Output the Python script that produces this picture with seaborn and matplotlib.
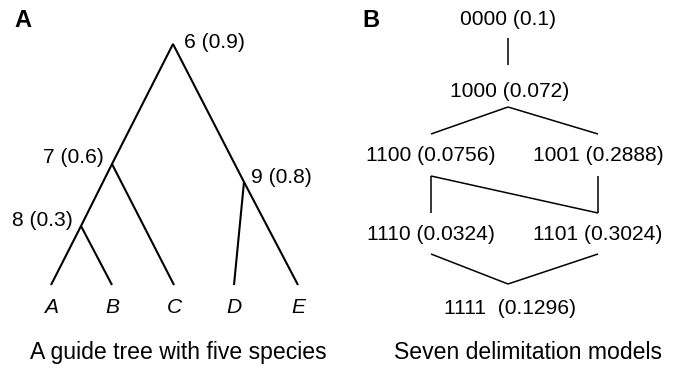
import matplotlib
matplotlib.use("Agg")
import matplotlib.pyplot as plt
import pandas as pd
import seaborn as sns

# ---- Panel A: guide tree with five species ----
leaf_names = ["A", "B", "C", "D", "E"]
internal_ids = ["6", "7", "8", "9"]
internal_probs = [0.9, 0.6, 0.3, 0.8]
# branches drawn as polylines through the tree nodes
tree_paths = [
    ["A", "8", "7", "6", "9", "E"],
    ["8", "B"],
    ["7", "C"],
    ["9", "D"],
]

# ---- Panel B: seven delimitation models ----
model_codes = ["0000", "1000", "1100", "1001", "1110", "1101", "1111"]
model_probs = [0.1, 0.072, 0.0756, 0.2888, 0.0324, 0.3024, 0.1296]
model_edges = [
    ("0000", "1000"),
    ("1000", "1100"), ("1000", "1001"),
    ("1100", "1110"), ("1100", "1101"), ("1001", "1101"),
    ("1110", "1111"), ("1101", "1111"),
]

panel_letters = ["A", "B"]
captions = ["A guide tree with five species", "Seven delimitation models"]

# ---- layout on a pixel canvas (origin top-left) ----
W, H = 678, 369
leaf_pos = {n: (x, 285) for n, x in zip(leaf_names, [51, 112, 174, 234, 298])}
node_pos = {"6": (173, 44), "7": (112, 164), "8": (81, 226), "9": (244, 182)}
tree_pos = {**leaf_pos, **node_pos}

# label placement for internal nodes: (x, baseline, alignment)
node_label_at = {"6": (184, 48, "left"), "7": (104, 163, "right"),
                 "8": (73, 226, "right"), "9": (251, 183, "left")}

# model rows: centre x, label baseline, connector top / bottom
model_x = {"0000": 508, "1000": 508, "1100": 431, "1001": 598,
           "1110": 431, "1101": 598, "1111": 508}
model_base = {"0000": 25, "1000": 97, "1100": 161, "1001": 161,
              "1110": 240, "1101": 240, "1111": 314}
conn_top = {"1000": 65, "1100": 134, "1001": 134, "1110": 213,
            "1101": 213, "1111": 284}
conn_bot = {"0000": 38, "1000": 107, "1100": 176, "1001": 176,
            "1110": 254, "1101": 254}

sns.set_theme(style="white")
plt.rcParams["font.family"] = ["Liberation Sans", "DejaVu Sans"]
plt.rcParams["text.color"] = "black"

fig = plt.figure(figsize=(W / 100, H / 100), dpi=100)
ax = fig.add_axes([0, 0, 1, 1])

# tree branches
rows = []
for i, path in enumerate(tree_paths):
    for k, n in enumerate(path):
        x, y = tree_pos[n]
        rows.append({"path": i, "step": k, "x": x, "y": y})
tree_df = pd.DataFrame(rows)
sns.lineplot(data=tree_df, x="x", y="y", units="path", estimator=None,
             sort=False, color="black", linewidth=1.5, legend=False, ax=ax,
             solid_joinstyle="miter", solid_capstyle="butt")

# model connectors
rows = []
for i, (a, b) in enumerate(model_edges):
    rows.append({"edge": i, "step": 0, "x": model_x[a], "y": conn_bot[a]})
    rows.append({"edge": i, "step": 1, "x": model_x[b], "y": conn_top[b]})
model_df = pd.DataFrame(rows)
sns.lineplot(data=model_df, x="x", y="y", units="edge", estimator=None,
             sort=False, color="black", linewidth=1.1, legend=False, ax=ax,
             solid_capstyle="butt")

fs_node = 15.1
fs_cap = 16.6

for nid, p in zip(internal_ids, internal_probs):
    x, y, ha = node_label_at[nid]
    ax.text(x, y, f"{nid} ({p})", ha=ha, va="baseline", fontsize=fs_node,
            color="black")

for n in leaf_names:
    x, _ = leaf_pos[n]
    ax.text(x, 313, n, ha="center", va="baseline", fontsize=fs_node,
            style="italic", color="black")

for code, p in zip(model_codes, model_probs):
    sep = "  " if code == "1111" else " "
    xs = model_x[code] + (2 if code in ("1000", "1111") else 0)
    ax.text(xs, model_base[code], f"{code}{sep}({p})", ha="center",
            va="baseline", fontsize=fs_node, color="black")

for letter, x in zip(panel_letters, [14, 362]):
    ax.text(x, 27, letter, ha="left", va="baseline", fontsize=17,
            fontweight="bold", color="black")

for cap, x in zip(captions, [178, 528]):
    ax.text(x, 359, cap, ha="center", va="baseline", fontsize=fs_cap,
            color="black")

ax.set_xlim(0, W)
ax.set_ylim(H, 0)
ax.set_xlabel("")
ax.set_ylabel("")
ax.axis("off")

fig.savefig("out.png", dpi=100, facecolor="white")
